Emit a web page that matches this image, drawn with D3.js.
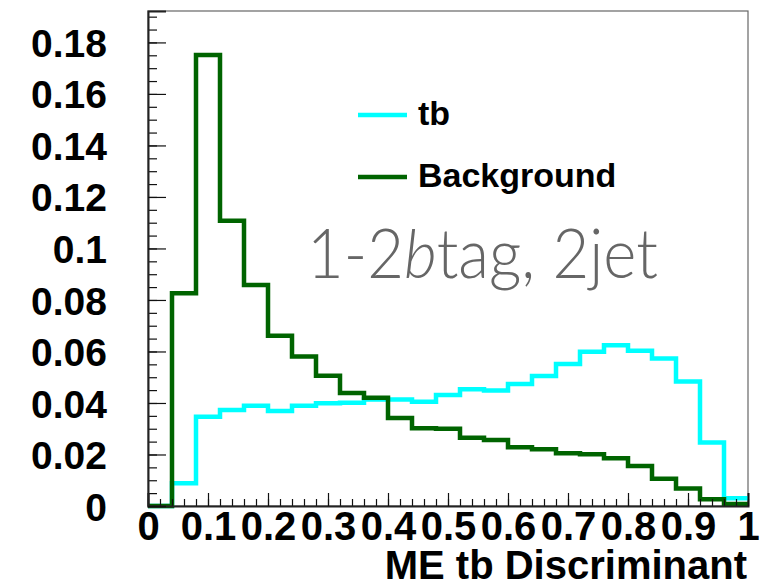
<!DOCTYPE html>
<html>
<head>
<meta charset="utf-8">
<script src="https://cdn.jsdelivr.net/npm/d3@7"></script>
<style>
  body { margin: 0; background: #fff; }
  text { font-family: "Liberation Sans", Arial, Helvetica, sans-serif; font-weight: bold; }
</style>
</head>
<body>
<script>
// bin edges: 25 bins of width 0.04 on [0,1]
var binEdges = d3.range(0, 26).map(function(i) { return +(i * 0.04).toFixed(2); });

var tbValues = [0, 0.0088, 0.0347, 0.0373, 0.0389, 0.0369, 0.0389, 0.0399, 0.0401, 0.0414,
                0.0414, 0.0405, 0.0431, 0.0453, 0.0448, 0.0474, 0.0505, 0.0551, 0.0599, 0.0624,
                0.0603, 0.0573, 0.0483, 0.0247, 0.0030];

var bkgValues = [0, 0.0826, 0.1751, 0.1108, 0.0858, 0.0661, 0.0580, 0.0506, 0.0439, 0.0420,
                 0.0342, 0.0302, 0.0300, 0.0265, 0.0256, 0.0228, 0.0220, 0.0205, 0.0201, 0.0185,
                 0.0155, 0.0106, 0.0068, 0.0026, 0.0008];

var xTicks = [0, 0.1, 0.2, 0.3, 0.4, 0.5, 0.6, 0.7, 0.8, 0.9, 1];
var yTicks = [0, 0.02, 0.04, 0.06, 0.08, 0.1, 0.12, 0.14, 0.16, 0.18];

var seriesNames = ["tb", "Background"];
var seriesColors = ["#00ffff", "#006400"];

var w = 782, h = 586;
var padL = 148, padR = 748, padT = 11, padB = 506;

var svg = d3.select("body").append("svg")
            .attr("width", w)
            .attr("height", h);

var x = d3.scaleLinear().domain([0, 1]).range([padL, padR]);
var y = d3.scaleLinear().domain([0, 0.1922]).range([padB, padT]);

// frame (top / right)
svg.append("rect")
   .attr("x", padL).attr("y", padT)
   .attr("width", padR - padL).attr("height", padB - padT)
   .attr("fill", "none")
   .attr("stroke", "#666")
   .attr("stroke-width", 1.2);

// histograms as step lines
function steps(vals) {
  var pts = vals.map(function(v, i) { return [binEdges[i], v]; });
  pts.push([binEdges[binEdges.length - 1], vals[vals.length - 1]]);
  return pts;
}
var line = d3.line()
  .x(function(d) { return x(d[0]); })
  .y(function(d) { return y(d[1]); })
  .curve(d3.curveStepAfter);

[tbValues, bkgValues].forEach(function(vals, k) {
  svg.append("path")
     .attr("d", line(steps(vals)))
     .attr("fill", "none")
     .attr("stroke", seriesColors[k])
     .attr("stroke-width", 4.5)
     .attr("stroke-linejoin", "miter");
});

// minor ticks
var xMinor = d3.range(0, 51).map(function(i) { return i * 0.02; });
var yMinor = d3.range(0, 39).map(function(i) { return i * 0.005; });

svg.append("g")
   .attr("transform", "translate(0," + padB + ")")
   .call(d3.axisBottom(x).tickValues(xMinor).tickSize(-7).tickFormat(""))
   .call(function(g) { g.select(".domain").remove(); });

svg.append("g")
   .attr("transform", "translate(" + padL + ",0)")
   .call(d3.axisLeft(y).tickValues(yMinor).tickSize(-9).tickFormat(""))
   .call(function(g) { g.select(".domain").remove(); });

// major axes
var xAxis = svg.append("g")
   .attr("transform", "translate(0," + padB + ")")
   .call(d3.axisBottom(x).tickValues(xTicks).tickSize(-13).tickPadding(0)
         .tickFormat(d3.format("~g")));
xAxis.select(".domain").attr("stroke", "#222").attr("stroke-width", 2);
xAxis.selectAll("text")
     .attr("y", 34).attr("dy", 0)
     .attr("font-size", 40)
     .attr("fill", "#000");

var yAxis = svg.append("g")
   .attr("transform", "translate(" + padL + ",0)")
   .call(d3.axisLeft(y).tickValues(yTicks).tickSize(-18)
         .tickFormat(d3.format("~g")));
yAxis.select(".domain").attr("stroke", "#222").attr("stroke-width", 2);
yAxis.selectAll("text")
     .attr("x", -41).attr("dy", "0.36em")
     .attr("font-size", 39)
     .attr("fill", "#000");

svg.selectAll(".tick line").attr("stroke", "#111").attr("stroke-width", 1.2);

// axis title
svg.append("text")
   .attr("x", 747).attr("y", 579)
   .attr("text-anchor", "end")
   .attr("font-size", 40)
   .text("ME tb Discriminant");

// legend
var legendY = [115, 177];
seriesNames.forEach(function(name, k) {
  svg.append("line")
     .attr("x1", 358).attr("x2", 407)
     .attr("y1", legendY[k]).attr("y2", legendY[k])
     .attr("stroke", seriesColors[k])
     .attr("stroke-width", 4.5);
  svg.append("text")
     .attr("x", 418).attr("y", legendY[k] + 10)
     .attr("font-size", 34)
     .text(name);
});

// annotation
var note = svg.append("text")
   .attr("x", 307).attr("y", 278)
   .attr("fill", "#666")
   .attr("font-size", 68)
   .attr("textLength", 351)
   .attr("lengthAdjust", "spacingAndGlyphs")
   .style("font-family", "Lato, 'Open Sans', sans-serif")
   .style("font-weight", 300);
note.append("tspan").text("1-2");
note.append("tspan").style("font-style", "italic").text("b");
note.append("tspan").text("tag, 2jet");
</script>
</body>
</html>
